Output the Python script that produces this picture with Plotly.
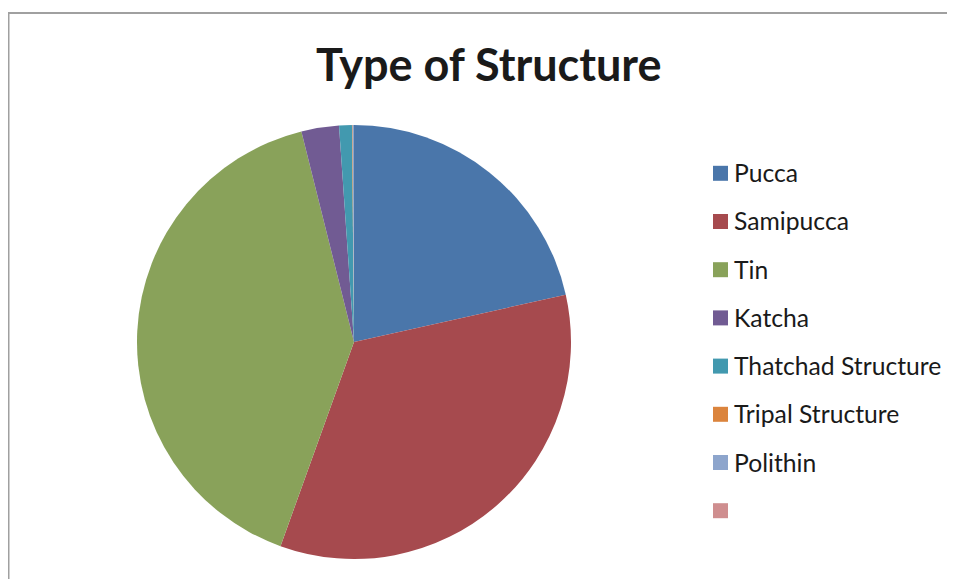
import plotly.graph_objects as go

categories = ["Pucca", "Samipucca", "Tin", "Katcha", "Thatchad Structure",
              "Tripal Structure", "Polithin", ""]
values = [21.5, 34.0, 40.6, 2.8, 0.95, 0.05, 0.1, 0.0]
colors = ["#4A76AA", "#A64A4E", "#89A25A", "#715B93", "#4299AF",
          "#DB843D", "#8DA5CC", "#CF8E8F"]
title_text = "Type of Structure"

W, H = 955, 579
OX, OY = 8, 8  # page body offset
cx, cy, r = 354 - OX, 342 - OY, 217


def px(x):
    return x / W


def py(y):
    return 1 - y / H


fig = go.Figure()
fig.add_trace(go.Pie(
    labels=[c if c else " " for c in categories],
    values=values,
    marker=dict(colors=colors, line=dict(width=0)),
    sort=False,
    direction="clockwise",
    rotation=0,
    textinfo="none",
    showlegend=False,
    domain=dict(x=[px(cx - r), px(cx + r)],
                y=[py(cy + r), py(cy - r)]),
))

shapes = [dict(type="rect", xref="paper", yref="paper",
               x0=px(8.5 - OX), x1=1.05, y0=-0.05, y1=py(13 - OY),
               line=dict(color="#A0A0A0", width=2), fillcolor="rgba(0,0,0,0)")]
annotations = [dict(text=f"<b>{title_text}</b>", x=px(489 - OX), y=py(64 - OY),
                    xref="paper", yref="paper", xanchor="center", yanchor="middle",
                    showarrow=False,
                    font=dict(family="Lato", size=45, color="#1a1a1a"))]

ly0, lstep = 173.3, 48.2
for i, (cat, col) in enumerate(zip(categories, colors)):
    yc = ly0 + i * lstep - OY
    shapes.append(dict(type="rect", xref="paper", yref="paper",
                       x0=px(713 - OX), x1=px(728 - OX),
                       y0=py(yc + 7.5), y1=py(yc - 7.5),
                       fillcolor=col, line=dict(width=0)))
    if cat:
        annotations.append(dict(text=cat, x=px(732 - OX), y=py(yc - 0.5),
                                xref="paper", yref="paper",
                                xanchor="left", yanchor="middle", showarrow=False,
                                font=dict(family="Lato", size=24.7, color="#1a1a1a")))

fig.update_layout(
    width=W, height=H,
    margin=dict(l=0, r=0, t=0, b=0),
    paper_bgcolor="white", plot_bgcolor="white",
    shapes=shapes, annotations=annotations,
)
fig.write_html("out.html")
